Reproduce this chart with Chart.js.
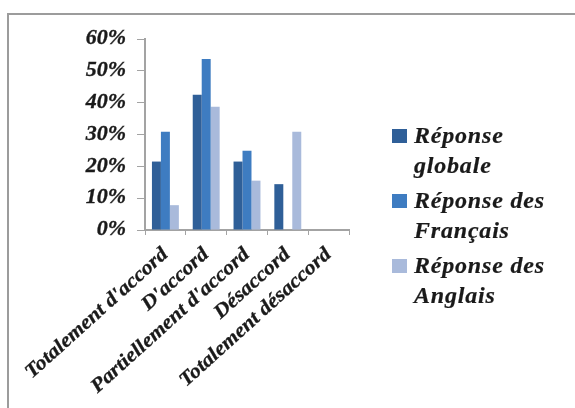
<!DOCTYPE html>
<html>
<head>
<meta charset="utf-8">
<script src="https://cdn.jsdelivr.net/npm/chart.js@4.4.1/dist/chart.umd.min.js"></script>
<style>
  html, body { margin: 0; padding: 0; background: #fff; }
  #wrap { position: relative; width: 575px; height: 408px; overflow: hidden; }
  #frame { position: absolute; left: 7px; top: 13px; width: 580px; height: 394px;
           border-top: 2px solid #9c9c9c; border-left: 2px solid #9c9c9c; }
  canvas { position: absolute; left: 0; top: 0; }
  #legend { position: absolute; left: 392px; top: 120px; width: 170px;
            font-family: "Liberation Serif", "Times New Roman", serif;
            font-weight: bold; font-style: italic; font-size: 24px;
            letter-spacing: 0.8px; line-height: 30px; color: #1a1a1a;
            -webkit-text-stroke: 0.2px #1a1a1a; }
  .item { position: relative; padding-left: 22px; height: 60px; margin-bottom: 5px; }
  .box { position: absolute; left: 0; top: 9px; width: 15px; height: 14px; }
</style>
</head>
<body>
<div id="wrap">
  <div id="frame"></div>
  <canvas id="c" width="575" height="408"></canvas>
  <div id="legend"></div>
</div>
<script>
const categories = ["Totalement d'accord", "D'accord", "Partiellement d'accord", "Désaccord", "Totalement désaccord"];
const globale = [21.5, 42.5, 21.5, 14.4, 0];
const francais = [30.9, 53.7, 24.9, 0, 0];
const anglais = [7.8, 38.7, 15.5, 30.9, 0];
const seriesNames = ['Réponse globale', 'Réponse des Français', 'Réponse des Anglais'];
const seriesColors = ['#2f5f98', '#3e7cc1', '#a9badb'];

const axisFont = { family: '"Liberation Serif", "Times New Roman", serif', size: 20, weight: 'bold', style: 'italic' };

// the original text is a bit wider and heavier than plain Times bold italic
const wideText = {
  id: 'wideText',
  beforeDraw(chart) {
    const ctx = chart.ctx;
    if (ctx._wide) return;
    const fill = ctx.fillText;
    ctx.fillText = function (t, x, y) {
      this.save();
      this.translate(x, y);
      this.scale(1.1, 1);
      this.lineWidth = 0.3;
      this.strokeStyle = this.fillStyle;
      this.strokeText(t, 0, 0);
      fill.call(this, t, 0, 0);
      this.restore();
    };
    ctx._wide = true;
  }
};

const chart = new Chart(document.getElementById('c'), {
  type: 'bar',
  data: {
    labels: categories,
    datasets: [
      { label: seriesNames[0], data: globale, backgroundColor: seriesColors[0] },
      { label: seriesNames[1], data: francais, backgroundColor: seriesColors[1] },
      { label: seriesNames[2], data: anglais, backgroundColor: seriesColors[2] }
    ]
  },
  options: {
    responsive: false,
    animation: false,
    devicePixelRatio: 1,
    layout: { padding: { top: 39, right: 226, left: 0, bottom: 0 } },
    datasets: { bar: { categoryPercentage: 0.66, barPercentage: 1 } },
    plugins: { legend: { display: false }, tooltip: { enabled: false } },
    scales: {
      x: {
        grid: { drawOnChartArea: false, drawTicks: true, tickLength: 5, color: '#a3a3a3' },
        border: { color: '#a3a3a3', width: 2 },
        ticks: { font: axisFont, color: '#1a1a1a', maxRotation: 42, minRotation: 42, padding: 8 },
        afterFit(scale) { scale.height = 178; }
      },
      y: {
        min: 0, max: 60,
        grid: { drawOnChartArea: false, drawTicks: true, tickLength: 8, color: '#a3a3a3' },
        border: { color: '#a3a3a3', width: 2 },
        ticks: { stepSize: 10, font: axisFont, color: '#1a1a1a', padding: 11, callback: v => v + '%' },
        afterFit(scale) { scale.width = 145; }
      }
    }
  },
  plugins: [wideText]
});

const legend = document.getElementById('legend');
chart.data.datasets.forEach(ds => {
  const item = document.createElement('div');
  item.className = 'item';
  const box = document.createElement('span');
  box.className = 'box';
  box.style.background = ds.backgroundColor;
  item.appendChild(box);
  item.appendChild(document.createTextNode(ds.label));
  legend.appendChild(item);
});
</script>
</body>
</html>
